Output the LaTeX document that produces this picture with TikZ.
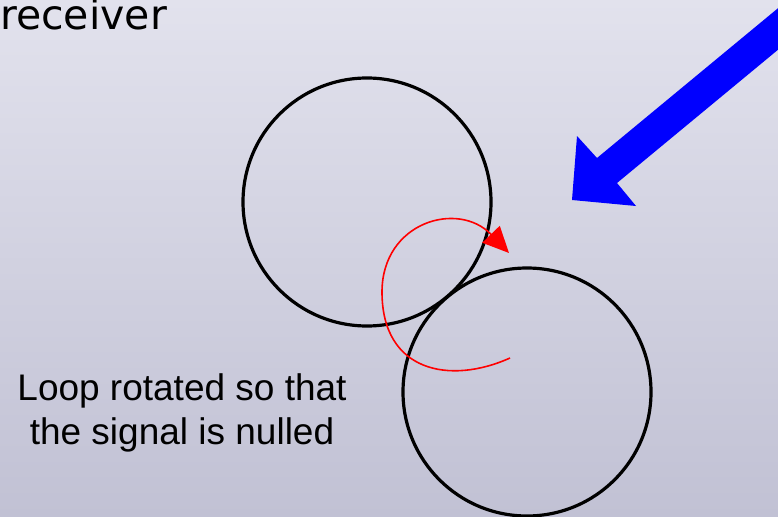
\documentclass[tikz,border=0pt]{standalone}
\usepackage{fontspec}
\setmainfont{Liberation Sans}
\newfontfamily\dvs{DejaVu Sans}
\usetikzlibrary{arrows.meta}
\definecolor{bgtop}{RGB}{226,226,237}
\definecolor{bgbot}{RGB}{193,193,212}
\begin{document}
\begin{tikzpicture}[x=1pt,y=-1pt,
  loop/.style={draw=black,line width=3.2pt},
  sig/.style={draw=red,line width=1.6pt,-{Triangle[length=26pt,width=24pt]}},
  lbl/.style={inner sep=0pt,align=center,font=\fontsize{37}{44}\selectfont}]
\useasboundingbox (0,0) rectangle (778,516);
\shade[top color=bgtop,bottom color=bgbot] (0,0) rectangle (778,516);
\begin{scope}
\clip (0,0) rectangle (778,516);
\node[inner sep=0pt,anchor=base west,font=\dvs\fontsize{41}{48}\selectfont] (rx) at (0,30) {receiver};
\node[loop,circle,minimum size=248pt,inner sep=0pt] (c1) at (367,202) {};
\node[loop,circle,minimum size=248pt,inner sep=0pt] (c2) at (527,392) {};
\fill[blue] (800,-10) -- (597,158) -- (577,136) -- (572,200) -- (636,206) -- (617,183) -- (820,15) -- cycle;
\coordinate (s0) at (510,358);
\coordinate (s1) at (509,253);
\draw[sig] (s0) .. controls (450,385) and (382,372) .. (382,292) .. controls (382,222) and (458,200) .. (s1);
\end{scope}
\node[lbl] (txt) at (182,413) {Loop rotated so that\\the signal is nulled};
\end{tikzpicture}
\end{document}
